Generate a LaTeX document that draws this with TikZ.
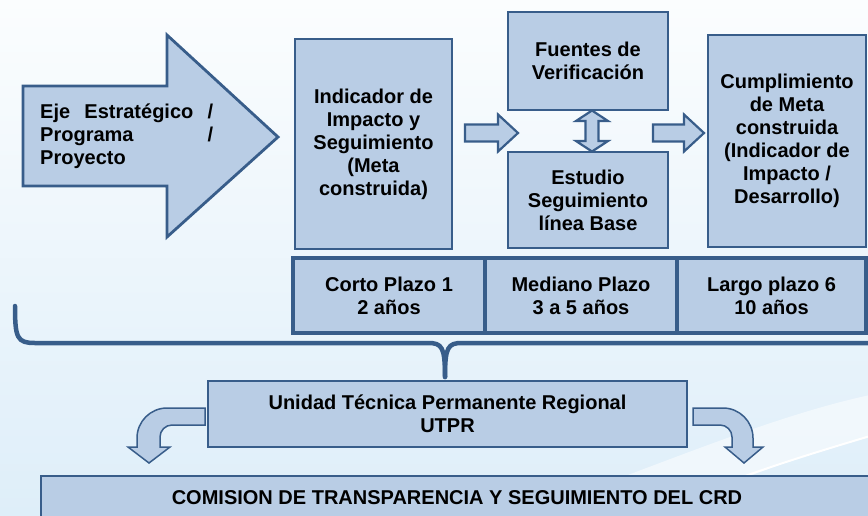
\documentclass[tikz,border=0pt]{standalone}
\usepackage{fontspec}
\setmainfont{Liberation Sans}
\definecolor{boxfill}{RGB}{185,205,229}
\definecolor{boxline}{RGB}{56,93,138}
\definecolor{bgtop}{RGB}{251,253,254}
\definecolor{bgbot}{RGB}{222,238,249}
\begin{document}
\begin{tikzpicture}[x=1pt,y=-1pt,
  txt/.style={font=\bfseries\fontsize{20}{23}\selectfont},
  box/.style={txt, draw=boxline, fill=boxfill, line width=2.2pt, align=center, inner sep=0pt},
  cell/.style={box, line width=4pt, minimum height=75pt},
  blk/.style={draw=boxline, fill=boxfill, line width=2.2pt, line join=miter},
  brace/.style={draw=boxline, line width=4.5pt, line cap=round}]
\useasboundingbox (0,0) rectangle (868,515);
\shade[top color=bgtop, bottom color=bgbot] (0,0) rectangle (868,515);
% light swoosh
\fill[white, opacity=0.5] (620,478) .. controls (720,440) and (800,410) .. (870,395) -- (870,437) .. controls (830,448) and (790,460) .. (745,478) -- cycle;
\draw[white, line width=2pt] (745,476) .. controls (790,460) and (830,448) .. (870,436);

% big arrow
\path[blk, line width=2.8pt] (23,86) -- (167,86) -- (167,35) -- (278,137) -- (167,237) -- (167,186) -- (23,186) -- cycle;
\node[txt, anchor=west, align=left, inner sep=0pt] (eje) at (40,136)
  {\makebox[173pt][l]{Eje\hfill Estratégico\hfill /}\\ \makebox[173pt][l]{Programa\hfill /}\\ Proyecto};

% boxes
\node[box, minimum width=157pt, minimum height=210pt] (ind) at (373.5,144)
  {Indicador de\\Impacto y\\Seguimiento\\(Meta\\construida)};
\node[box, minimum width=160pt, minimum height=98pt] (fue) at (588,61)
  {Fuentes de\\Verificación};
\node[box, minimum width=160pt, minimum height=96pt] (est) at (588,200)
  {Estudio\\Seguimiento\\línea Base};
\node[box, minimum width=158pt, minimum height=212pt] (cum) at (787,141)
  {Cumplimiento\\de Meta\\construida\\(Indicador de\\Impacto /\\Desarrollo)};

% block arrows
\path[blk] (465,124.5) -- (498,124.5) -- (498,114.5) -- (518,133) -- (498,151.5) -- (498,141.5) -- (465,141.5) -- cycle;
\path[blk] (653,124.5) -- (684,124.5) -- (684,114.5) -- (704,133) -- (684,151.5) -- (684,141.5) -- (653,141.5) -- cycle;
\path[blk] (592,110.5) -- (608,121) -- (598.5,121) -- (598.5,141) -- (608,141) -- (592,151.5) -- (576,141) -- (585.5,141) -- (585.5,121) -- (576,121) -- cycle;

% time row
\node[cell, minimum width=192pt] (cor) at (389,295.5) {Corto Plazo 1\\2 años};
\node[cell, minimum width=192pt] (med) at (581,295.5) {Mediano Plazo\\3 a 5 años};
\node[cell, minimum width=189pt] (lar) at (771.5,295.5) {Largo plazo 6\\10 años};

% brace
\coordinate (bl) at (15,306);
\coordinate (bs) at (445,377);
\coordinate (br) at (872,343);
\draw[brace] (bl) .. controls (15,338) and (17,343) .. (35,343) -- (428,343) .. controls (442,343) and (445,347) .. (bs);
\draw[brace] (bs) .. controls (445,347) and (448,343) .. (462,343) -- (br);

% UTPR
\node[box, minimum width=479pt, minimum height=66pt] (utpr) at (447.5,414)
  {Unidad Técnica Permanente Regional\\UTPR};

% commission
\node[box, minimum width=860pt, minimum height=90pt, anchor=north west] (crd) at (40,475) {};
\node[txt, anchor=base] (crdt) at (457,504) {COMISION DE TRANSPARENCIA Y SEGUIMIENTO DEL CRD};

% curved arrows
\path[blk, line width=1.5pt] (205,408) -- (167,408) .. controls (150.5,408) and (137,421.5) .. (137,438) -- (137,447) -- (128,447) -- (149,463) -- (170,447) -- (160,447) -- (160,437) .. controls (160,430.4) and (165.4,425) .. (172,425) -- (205,425) -- cycle;
\path[blk, line width=1.5pt] (693,408) -- (723,408) .. controls (739.5,408) and (753,421.5) .. (753,438) -- (753,447) -- (763,447) -- (744,463) -- (725,447) -- (732,447) -- (732,437) .. controls (732,430.4) and (726.6,425) .. (720,425) -- (693,425) -- cycle;
\end{tikzpicture}
\end{document}
